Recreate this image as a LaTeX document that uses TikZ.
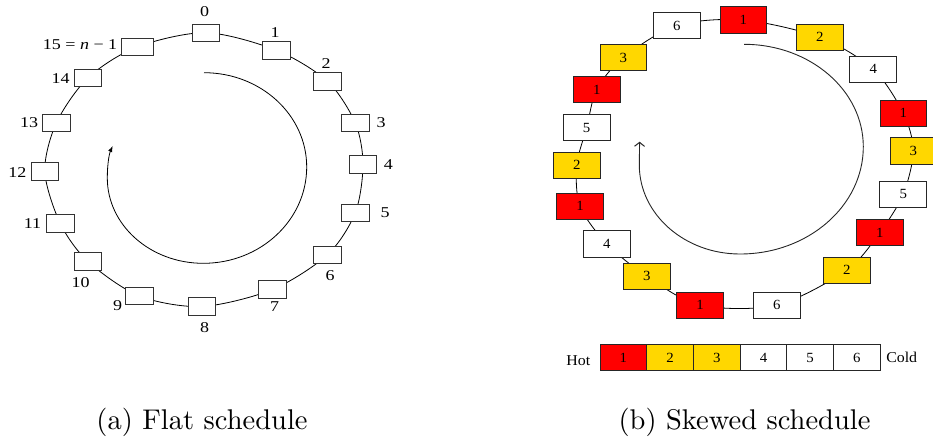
\documentclass[tikz,border=0pt]{standalone}
\usepackage{fontspec}
\usetikzlibrary{arrows.meta}
\newfontfamily\lblfont{Liberation Serif}[FakeStretch=1.2]
\newfontfamily\boxfont{Liberation Serif}[FakeStretch=1.06]
\definecolor{hotred}{RGB}{255,0,0}
\definecolor{warmgold}{RGB}{255,215,0}
% caption text: the 10pt design size, enlarged
\newcommand\captionline[1]{\scalebox{2.85}{\fontsize{10}{12}\selectfont #1}}
\begin{document}
\begin{tikzpicture}[x=1pt,y=-1pt,
  ring/.style={line width=0.8pt},
  slot/.style={draw=black!80, line width=0.8pt, fill=white, inner sep=0pt,
               minimum width=27.5pt, minimum height=17.3pt},
  num/.style={inner sep=0pt, font=\lblfont\fontsize{15}{15}\selectfont},
  cell/.style={draw=black!85, line width=0.8pt, inner sep=0pt,
               minimum width=46.7pt, minimum height=26.4pt,
               font=\boxfont\fontsize{14}{14}\selectfont},
  hotcell/.style={cell, fill=hotred},
  warmcell/.style={cell, fill=warmgold},
  coldcell/.style={cell, fill=white},
  spiral/.style={line width=0.8pt},
  captext/.style={anchor=base, inner sep=0pt}]
\useasboundingbox (0,0) rectangle (933,437);

% ---------------- (a) flat schedule ----------------
\coordinate (p0)  at (206,32.7);
\coordinate (p1)  at (276.5,50.3);
\coordinate (p2)  at (327.5,81.3);
\coordinate (p3)  at (355.3,123);
\coordinate (p4)  at (363,164.5);
\coordinate (p5)  at (355.3,212.7);
\coordinate (p6)  at (327.5,254.7);
\coordinate (p7)  at (272.5,289.5);
\coordinate (p8)  at (201.9,306.5);
\coordinate (p9)  at (139.3,296);
\coordinate (p10) at (88,261.5);
\coordinate (p11) at (60.2,223.3);
\coordinate (p12) at (44.8,171.5);
\coordinate (p13) at (56.3,123);
\coordinate (p14) at (88,77.8);
\coordinate (p15) at (137,47);

\draw[ring] plot[smooth cycle] coordinates {(p0) (p1) (p2) (p3) (p4) (p5) (p6) (p7)
  (p8) (p9) (p10) (p11) (p12) (p13) (p14) (p15)};

\foreach \i in {0,...,14} \node[slot] (s\i) at (p\i) {};
\node[slot, minimum width=32pt] (s15) at (p15) {};

\node[num] (l0)  at (204.7,12)    {0};
\node[num] (l1)  at (275,32.7)    {1};
\node[num] (l2)  at (326,63.3)    {2};
\node[num] (l3)  at (381,122.7)   {3};
\node[num] (l4)  at (388.3,164.3) {4};
\node[num] (l5)  at (385,212.3)   {5};
\node[num] (l6)  at (330,275.7)   {6};
\node[num] (l7)  at (274.7,306.7) {7};
\node[num] (l8)  at (204.7,327.7) {8};
\node[num] (l9)  at (117.7,306)   {9};
\node[num] (l10) at (80.5,282.3)  {10};
\node[num] (l11) at (32.5,223.3)  {11};
\node[num] (l12) at (17.3,172.3)  {12};
\node[num] (l13) at (29,122.7)    {13};
\node[num] (l14) at (60.5,78.7)   {14};
\node[num] (l15) at (80,44.5)     {15 = \textit{n} − 1};

% inward spiral, clockwise, built from quarter ellipses
\coordinate (sa0) at (204,72.7);
\coordinate (sa1) at (112.7,146);
\draw[spiral, -{Latex[length=6pt,width=4.5pt]}]
  (sa0) .. controls (260.7,72.7) and (306.7,114.9) .. (306.7,167)
        .. controls (306.7,220.2) and (260.4,263.3) .. (203.3,263.3)
        .. controls (150.3,263.3) and (107.3,225.1) .. (107.3,178)
        .. controls (107.3,163) and (109.5,153) .. (sa1);

% ---------------- (b) skewed schedule ----------------
\coordinate (q1)  at (743.3,20);
\coordinate (q2)  at (819.8,37.3);
\coordinate (q3)  at (873.2,69.2);
\coordinate (q4)  at (903.3,113.2);
\coordinate (q5)  at (913.3,150.8);
\coordinate (q6)  at (903.2,194.3);
\coordinate (q7)  at (879.8,232.5);
\coordinate (q8)  at (846.7,270.2);
\coordinate (q9)  at (776.7,305.2);
\coordinate (q10) at (700,305.2);
\coordinate (q11) at (646.7,276.2);
\coordinate (q12) at (606.7,243.8);
\coordinate (q13) at (580,206.2);
\coordinate (q14) at (576.7,165.3);
\coordinate (q15) at (586.7,127.5);
\coordinate (q16) at (596.7,89.5);
\coordinate (q17) at (623.3,57.5);
\coordinate (q18) at (676.7,25.5);

\draw[ring] plot[smooth cycle] coordinates {(q1) (q2) (q3) (q4) (q5) (q6) (q7) (q8)
  (q9) (q10) (q11) (q12) (q13) (q14) (q15) (q16) (q17) (q18)};

\node[hotcell]  (r1)  at (q1)  {1};
\node[warmcell] (r2)  at (q2)  {2};
\node[coldcell] (r3)  at (q3)  {4};
\node[hotcell]  (r4)  at (q4)  {1};
\node[warmcell] (r5)  at (q5)  {3};
\node[coldcell] (r6)  at (q6)  {5};
\node[hotcell]  (r7)  at (q7)  {1};
\node[warmcell] (r8)  at (q8)  {2};
\node[coldcell] (r9)  at (q9)  {6};
\node[hotcell]  (r10) at (q10) {1};
\node[warmcell] (r11) at (q11) {3};
\node[coldcell] (r12) at (q12) {4};
\node[hotcell]  (r13) at (q13) {1};
\node[warmcell] (r14) at (q14) {2};
\node[coldcell] (r15) at (q15) {5};
\node[hotcell]  (r16) at (q16) {1};
\node[warmcell] (r17) at (q17) {3};
\node[coldcell] (r18) at (q18) {6};

\coordinate (sb0) at (744,44.3);
\coordinate (sb1) at (639.6,141.7);
\draw[spiral, line width=0.9pt, draw=black!85, -{Straight Barb[length=4pt,width=10pt,line width=1pt]}]
  (sb0) .. controls (809.9,44.3) and (863.3,90.2) .. (863.3,146.7)
        .. controls (863.3,205.9) and (808.1,254) .. (740,254)
        .. controls (684.4,254) and (639.3,214.1) .. (639.3,165)
        -- (sb1);

% hot-to-cold legend
\node[hotcell]  (k1) at (623.35,357.5) {1};
\node[warmcell] (k2) at (670.05,357.5) {2};
\node[warmcell] (k3) at (716.75,357.5) {3};
\node[coldcell] (k4) at (763.45,357.5) {4};
\node[coldcell] (k5) at (810.15,357.5) {5};
\node[coldcell] (k6) at (856.85,357.5) {6};
\node[inner sep=0pt, font=\boxfont\fontsize{15}{15}\selectfont] (hot)  at (578.3,360.3) {Hot};
\node[inner sep=0pt, font=\boxfont\fontsize{15}{15}\selectfont] (cold) at (901.7,357.2) {Cold};

% captions
\node[captext] (capa) at (202,429.5)   {\captionline{(a) Flat schedule}};
\node[captext] (capb) at (744.5,429.5) {\captionline{(b) Skewed schedule}};
\end{tikzpicture}
\end{document}
